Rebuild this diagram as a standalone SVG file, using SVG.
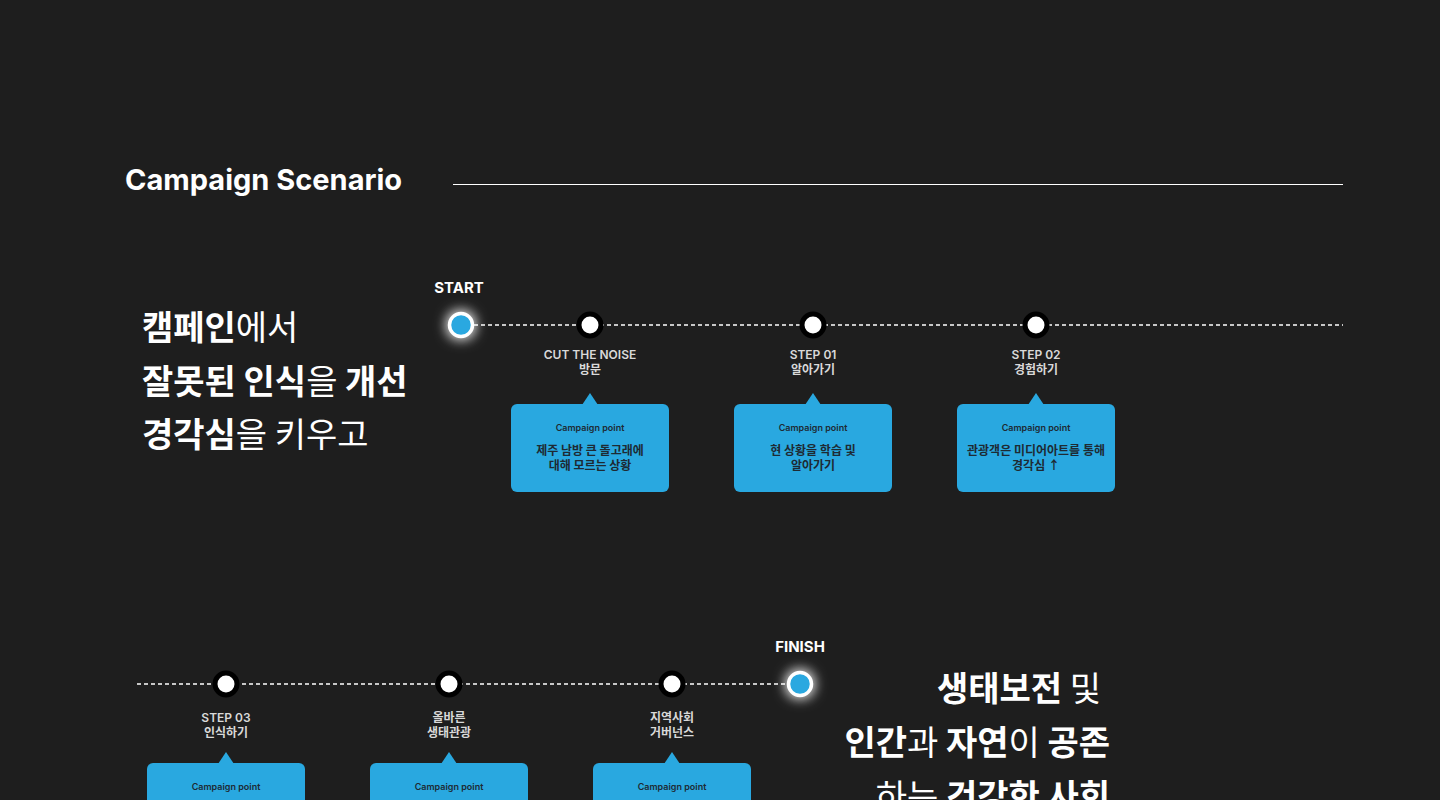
<svg xmlns="http://www.w3.org/2000/svg" width="1440" height="800" viewBox="0 0 1440 800">
<defs>
<filter id="glow" x="-200%" y="-200%" width="500%" height="500%">
<feMorphology in="SourceAlpha" operator="dilate" radius="2" result="d"/>
<feGaussianBlur in="d" stdDeviation="6" result="b"/>
<feFlood flood-color="#ffffff" flood-opacity="0.85"/>
<feComposite in2="b" operator="in" result="g"/>
<feMerge><feMergeNode in="g"/><feMergeNode in="SourceGraphic"/></feMerge>
</filter>
<path id="ptr" d="M-8,0 L0,-12 L8,0 Z"/>
</defs>
<style>
.title{font-family:Inter,"Noto Sans CJK KR",sans-serif;font-size:29px;font-weight:700;fill:#fff}
.big{font-family:"Noto Sans CJK KR",sans-serif;font-size:34px;fill:#fff;font-weight:400}
.big .b{font-weight:700}
.lbl{font-family:Inter,"Noto Sans CJK KR",sans-serif;font-size:12px;font-weight:600;fill:#d9d9d9;text-anchor:middle}
.se{font-family:Inter,"Noto Sans CJK KR",sans-serif;font-size:15px;font-weight:700;fill:#fff;text-anchor:middle}
.cp{font-family:Inter,"Noto Sans CJK KR",sans-serif;font-size:9px;font-weight:600;fill:#1e2a33;text-anchor:middle}
.bt{font-family:"Noto Sans CJK KR",sans-serif;font-size:12px;font-weight:700;fill:#1e2a33;text-anchor:middle}
.bub{fill:#29a8e0}
.dot{fill:#fff;stroke:#000;stroke-width:5}
.end{fill:#29a8e0;stroke:#fff;stroke-width:3.5}
.dash{stroke:#fff;stroke-width:1.6;stroke-dasharray:4 3;fill:none}
</style>
<rect width="1440" height="800" fill="#1e1e1e"/>

<g id="header">
<text class="title" x="125" y="190">Campaign Scenario</text>
<line x1="453" y1="184.5" x2="1343" y2="184.5" stroke="#fff" stroke-width="1"/>
</g>

<g id="connectors">
<line class="dash" x1="474" y1="325" x2="1343" y2="325"/>
<line class="dash" x1="137" y1="684" x2="787" y2="684"/>
</g>

<g id="intro-text">
<text class="big" x="142" y="340"><tspan class="b">캠페인</tspan>에서</text>
<text class="big" x="142" y="394"><tspan class="b">잘못된 인식</tspan>을 <tspan class="b">개선</tspan></text>
<text class="big" x="142" y="447"><tspan class="b">경각심</tspan>을 키우고</text>
</g>

<g id="start">
<text class="se" x="459" y="293">START</text>
<circle class="end" cx="461" cy="325" r="11.5" filter="url(#glow)"/>
</g>

<g id="cut-the-noise">
<circle class="dot" cx="590" cy="325" r="11"/>
<text class="lbl" x="590" y="359">CUT THE NOISE</text>
<text class="lbl" x="590" y="374">방문</text>
<use href="#ptr" class="bub" x="590" y="405"/>
<rect class="bub" x="511" y="404" width="158" height="88" rx="6"/>
<text class="cp" x="590" y="431">Campaign point</text>
<text class="bt" x="590" y="455">제주 남방 큰 돌고래에</text>
<text class="bt" x="590" y="470">대해 모르는 상황</text>
</g>

<g id="step01">
<circle class="dot" cx="813" cy="325" r="11"/>
<text class="lbl" x="813" y="359">STEP 01</text>
<text class="lbl" x="813" y="374">알아가기</text>
<use href="#ptr" class="bub" x="813" y="405"/>
<rect class="bub" x="734" y="404" width="158" height="88" rx="6"/>
<text class="cp" x="813" y="431">Campaign point</text>
<text class="bt" x="813" y="455">현 상황을 학습 및</text>
<text class="bt" x="813" y="470">알아가기</text>
</g>

<g id="step02">
<circle class="dot" cx="1036" cy="325" r="11"/>
<text class="lbl" x="1036" y="359">STEP 02</text>
<text class="lbl" x="1036" y="374">경험하기</text>
<use href="#ptr" class="bub" x="1036" y="405"/>
<rect class="bub" x="957" y="404" width="158" height="88" rx="6"/>
<text class="cp" x="1036" y="431">Campaign point</text>
<text class="bt" x="1036" y="455">관광객은 미디어아트를 통해</text>
<text class="bt" x="1036" y="470">경각심 ↑</text>
</g>

<g id="step03">
<circle class="dot" cx="226" cy="684" r="11"/>
<text class="lbl" x="226" y="722">STEP 03</text>
<text class="lbl" x="226" y="737">인식하기</text>
<use href="#ptr" class="bub" x="226" y="764"/>
<rect class="bub" x="147" y="763" width="158" height="88" rx="6"/>
<text class="cp" x="226" y="790">Campaign point</text>
</g>

<g id="eco-tourism">
<circle class="dot" cx="449" cy="684" r="11"/>
<text class="lbl" x="449" y="722">올바른</text>
<text class="lbl" x="449" y="737">생태관광</text>
<use href="#ptr" class="bub" x="449" y="764"/>
<rect class="bub" x="370" y="763" width="158" height="88" rx="6"/>
<text class="cp" x="449" y="790">Campaign point</text>
</g>

<g id="governance">
<circle class="dot" cx="672" cy="684" r="11"/>
<text class="lbl" x="672" y="722">지역사회</text>
<text class="lbl" x="672" y="737">거버넌스</text>
<use href="#ptr" class="bub" x="672" y="764"/>
<rect class="bub" x="593" y="763" width="158" height="88" rx="6"/>
<text class="cp" x="672" y="790">Campaign point</text>
</g>

<g id="finish">
<text class="se" x="800" y="652">FINISH</text>
<circle class="end" cx="800" cy="684" r="11.5" filter="url(#glow)"/>
</g>

<g id="outro-text">
<text class="big" x="1101" y="701" text-anchor="end"><tspan class="b">생태보전</tspan> 및</text>
<text class="big" x="1110" y="755" text-anchor="end"><tspan class="b">인간</tspan>과 <tspan class="b">자연</tspan>이 <tspan class="b">공존</tspan></text>
<text class="big" x="1110" y="809" text-anchor="end">하는 <tspan class="b">건강한 사회</tspan></text>
</g>
</svg>
